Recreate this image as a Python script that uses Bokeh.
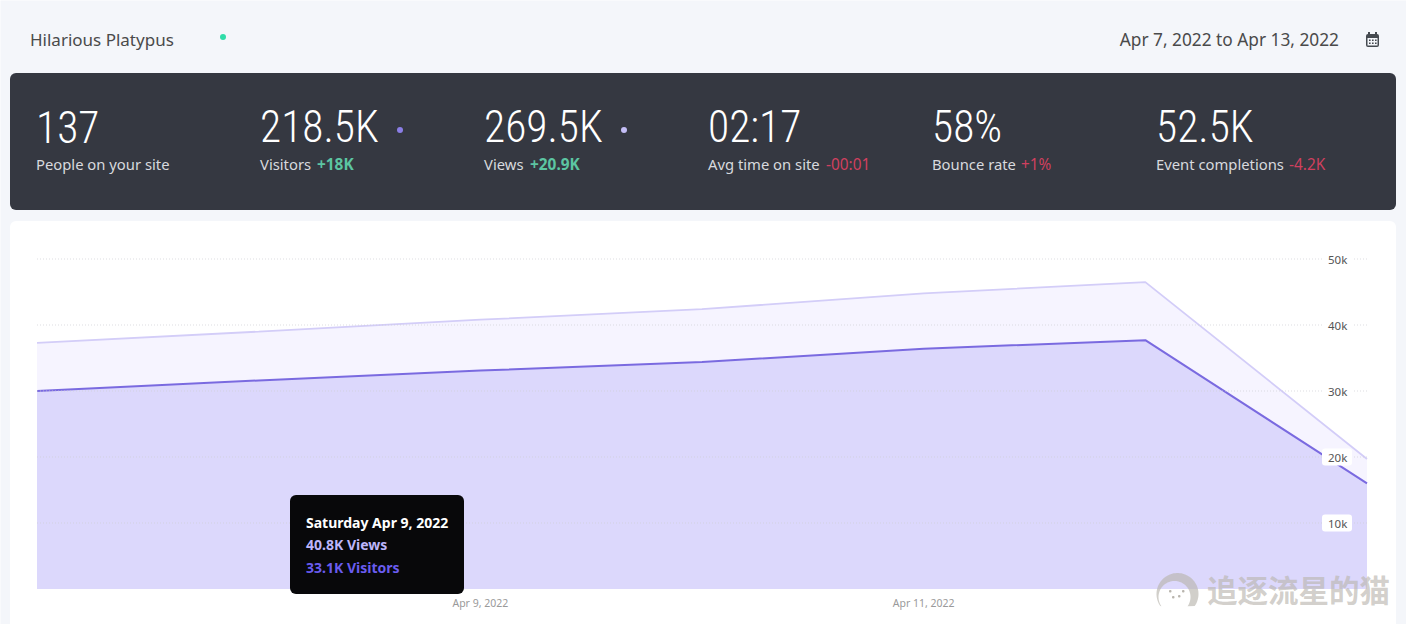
from datetime import datetime, timezone

import numpy as np
from bokeh.embed import file_html
from bokeh.models import BoxAnnotation, CustomJSTickFormatter, DatetimeTickFormatter, FixedTicker, Label, PolyAnnotation, Range1d
from bokeh.plotting import figure
from bokeh.resources import INLINE

# data
DAYS = ["2022-04-07", "2022-04-08", "2022-04-09", "2022-04-10", "2022-04-11", "2022-04-12", "2022-04-13"]
VIEWS = [37.3, 39.0, 40.8, 42.4, 44.8, 46.5, 19.7]
VISITORS = [30.0, 31.6, 33.1, 34.4, 36.4, 37.7, 16.0]
Y_TICKS = [10, 20, 30, 40, 50]
X_TICKS = ["2022-04-09", "2022-04-11"]

SITE_NAME = "Hilarious Platypus"
DATE_RANGE = "Apr 7, 2022 to Apr 13, 2022"
KPI_VALUES = ["137", "218.5K", "269.5K", "02:17", "58%", "52.5K"]
KPI_LABELS = ["People on your site", "Visitors", "Views", "Avg time on site", "Bounce rate", "Event completions"]
KPI_DELTAS = ["", "+18K", "+20.9K", "-00:01", "+1%", "-4.2K"]
TOOLTIP_DAY = "Saturday Apr 9, 2022"
WATERMARK = "追逐流星的猫"

# colours / fonts
PAGE_BG = "#f4f6fa"
DARK = "#353841"
FONT = "Noto Sans"
BIG_FONT = "'Roboto Condensed Light', 'Open Sans Condensed Light', 'Noto Sans Condensed Light', 'Roboto Light'"
GREEN = "#5cc5a2"
RED = "#d0405f"
MARK = "#b9b5ae"
W, H = 1406, 624
SHIFT = 0.5  # the canvas lands half a pixel right and down of the reference


def ms(day):
    return datetime.strptime(day, "%Y-%m-%d").replace(tzinfo=timezone.utc).timestamp() * 1000


# the plot frame covers the whole page, so scales are set from the picture's pixels
DAY_MS = 86400000
PX_PER_DAY = (1367 - 37) / 6
PX_PER_K = 66 / 10
x_at = lambda px: ms(DAYS[0]) + (px - 37) / PX_PER_DAY * DAY_MS
y_at = lambda py: (589 - py) / PX_PER_K

p = figure(width=W, height=H, output_backend="svg", toolbar_location=None, tools="",
           x_axis_type="datetime", y_axis_location="right", min_border=0,
           x_range=Range1d(x_at(SHIFT), x_at(W + SHIFT)),
           y_range=Range1d(y_at(H + SHIFT), y_at(SHIFT)),
           background_fill_color=PAGE_BG, border_fill_color=PAGE_BG, outline_line_color=None)
p.grid.visible = False


# screen y runs up from the bottom in annotations, helpers take it from the top
def box(left, top, right, bottom, color, radius=0, level="underlay"):
    p.add_layout(BoxAnnotation(left=left - SHIFT, right=right - SHIFT, top=H - top + SHIFT, bottom=H - bottom + SHIFT,
                               left_units="screen", right_units="screen", top_units="screen", bottom_units="screen",
                               fill_color=color, fill_alpha=1, line_color=None, border_radius=radius, level=level))


def text(px, py, s, size, color, font=FONT, style="normal", align="left", alpha=1.0):
    p.add_layout(Label(x=px - SHIFT, y=H - py + SHIFT, x_units="screen", y_units="screen", text=s,
                       text_font=font, text_font_size=f"{size}px", text_font_style=style, text_color=color,
                       text_align=align, text_baseline="middle", text_alpha=alpha, level="overlay"))


box(10, 73, 1396, 210, DARK, 6)
box(10, 221, 1396, 640, "white", 6)

x = [ms(d) for d in DAYS]
p.varea(x, 0, VIEWS, fill_color="#f6f4ff")
p.varea(x, 0, VISITORS, fill_color="#dcd8fc")
p.line(x, VIEWS, line_color="#d3cdf8", line_width=1.8)
p.line(x, VISITORS, line_color="#7a6ae0", line_width=2)

# dotted grid stops at the ends of the series
p.segment([x[0]] * len(Y_TICKS), Y_TICKS, [x[-1]] * len(Y_TICKS), Y_TICKS, line_color="#cfcfd4", line_alpha=0.7,
          line_dash={"value": [1, 2]}, line_width=1, level="guide")

# white chips behind the y tick labels
p.rect([x_at(1337)] * len(Y_TICKS), Y_TICKS, width=30, height=17, width_units="screen", height_units="screen",
       fill_color="white", line_color=None, border_radius=3, level="guide")

yax = p.yaxis[0]
yax.fixed_location = x_at(1322)
yax.ticker = FixedTicker(ticks=Y_TICKS)
yax.formatter = CustomJSTickFormatter(code="return tick + 'k'")
yax.axis_line_color = None
yax.major_tick_line_color = None
yax.minor_tick_line_color = None
yax.major_label_standoff = 0
yax.major_label_text_font = FONT
yax.major_label_text_font_size = "11.5px"
yax.major_label_text_color = "#555555"
yax.level = "annotation"

xax = p.xaxis[0]
xax.fixed_location = y_at(590)
xax.ticker = FixedTicker(ticks=[ms(d) for d in X_TICKS])
xax.formatter = DatetimeTickFormatter(days="%b %-d, %Y", months="%b %-d, %Y", hours="%b %-d, %Y")
xax.axis_line_color = None
xax.major_tick_line_color = None
xax.minor_tick_line_color = None
xax.major_label_standoff = 0
xax.major_label_text_font = FONT
xax.major_label_text_font_size = "10.5px"
xax.major_label_text_color = "#9a9a9a"
xax.level = "annotation"

# header
text(30, 39, SITE_NAME, 17, "#4a4a4a")
box(220, 34, 226, 40, "#2fdca8", 3, "overlay")
text(1339, 39, DATE_RANGE, 17.3, "#4a4a4a", align="right")

# calendar icon
box(1366, 34, 1379, 47, "#454a50", 2, "overlay")
box(1367.5, 38, 1377.5, 45.5, PAGE_BG, 0, "overlay")
box(1368, 32, 1370, 35, "#454a50", 0, "overlay")
box(1375, 32, 1377, 35, "#454a50", 0, "overlay")
for row in (39.5, 42.5):
    for col in (1369, 1372, 1375):
        box(col, row, col + 1.6, row + 1.6, "#454a50", 0, "overlay")

# stat strip
DELTA_X = [0, 317, 530, 826, 1021, 1289]
for i, (value, label, delta) in enumerate(zip(KPI_VALUES, KPI_LABELS, KPI_DELTAS)):
    left = 36 + 224 * i
    text(left, 127, value, 43.5, "white", font=BIG_FONT)
    text(left, 164, label, 14.8, "#d8dade")
    if delta:
        good = label in ("Visitors", "Views")
        text(DELTA_X[i], 164, delta, 15.4, GREEN if good else RED, style="bold" if good else "normal")
box(397, 127, 403, 133, "#8b7ee6", 3, "overlay")
box(621, 127, 627, 133, "#c4bef6", 3, "overlay")

# pinned tooltip
box(290, 495, 464, 594, "#08080a", 6, "overlay")
text(306, 522, TOOLTIP_DAY, 14, "white", style="bold")
text(306, 544, f"{VIEWS[2]}K Views", 14, "#bdb6fb", style="bold")
text(306, 567, f"{VISITORS[2]}K Visitors", 14, "#6a5cf0", style="bold")

# watermark
text(1207, 589, WATERMARK, 30.5, MARK, font="Noto Sans CJK SC", style="bold", alpha=0.65)
t = np.radians(np.linspace(-35, 215, 60))
ox, oy = 1177.5 - SHIFT, H - 594 + SHIFT
ring_x = np.r_[ox + 21 * np.cos(t), ox - 3 + 16 * np.cos(t[::-1])]
ring_y = np.r_[oy + 21 * np.sin(t), oy - 3 + 16 * np.sin(t[::-1])]
p.add_layout(PolyAnnotation(xs=ring_x.tolist(), ys=ring_y.tolist(), xs_units="screen", ys_units="screen",
                            fill_color=MARK, fill_alpha=0.65, line_color=None, level="overlay"))
for dx, dy in ((1169, 590), (1178, 595), (1182, 590), (1172, 596)):
    box(dx, dy, dx + 2.5, dy + 2.5, MARK, 1, "overlay")

open("out.html", "w").write(file_html(p, INLINE))
